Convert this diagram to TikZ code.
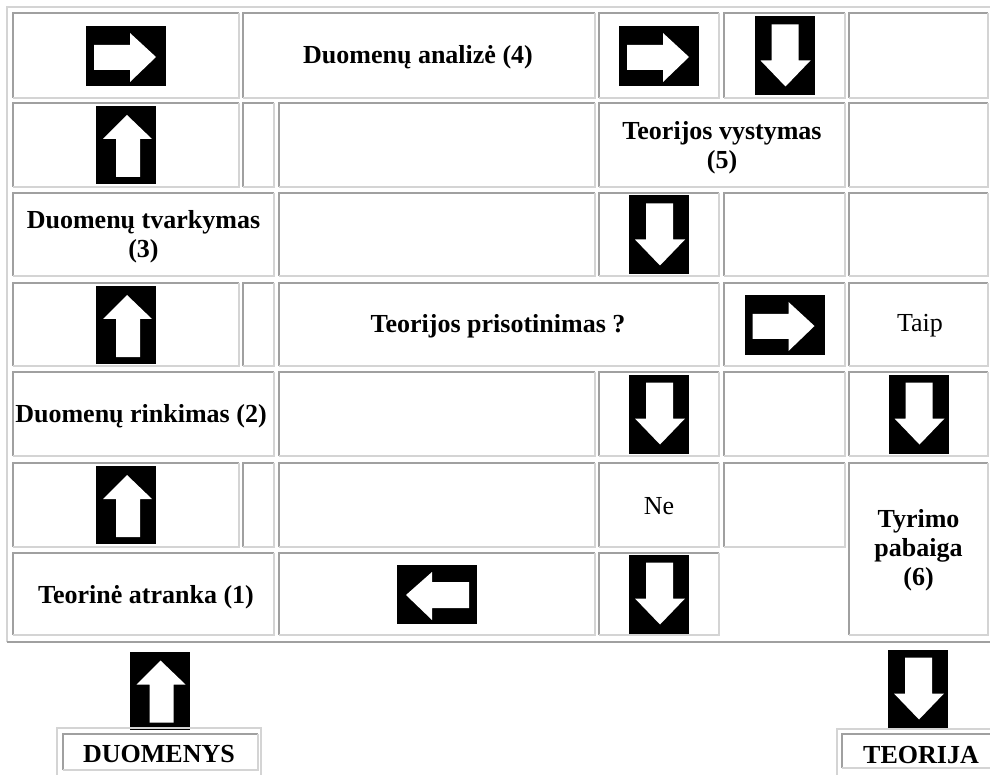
\documentclass[tikz,border=0pt]{standalone}
\usepackage{fontspec}
\setmainfont{Liberation Serif}

\definecolor{bevdark}{RGB}{160,160,160}
\definecolor{bevlight}{RGB}{212,212,212}

\tikzset{
  celldark/.style={draw=bevdark, line width=1.3pt},
  celllight/.style={draw=bevlight, line width=1.3pt},
  boldtext/.style={font=\fontsize{26}{29}\selectfont\bfseries, align=center, inner sep=0pt},
  plaintext/.style={font=\fontsize{26}{29}\selectfont, align=center, inner sep=0pt},
  % arrow pictures (black box, white arrow)
  arrright/.pic={
    \fill[black] (-40,-30) rectangle (40,30);
    \fill[white] (-32,-11) -- (4,-11) -- (4,-23) -- (30,1) -- (4,26) -- (4,14) -- (-32,14) -- cycle;
  },
  arrleft/.pic={
    \fill[black] (-40,-29.5) rectangle (40,29.5);
    \fill[white] (-31,0.5) -- (-5,-22.5) -- (-5,-12.5) -- (32,-12.5) -- (32,13.5) -- (-5,13.5) -- (-5,25.5) -- cycle;
  },
  arrup/.pic={
    \fill[black] (-30,-39) rectangle (30,39);
    \fill[white] (1,-30) -- (26,-6) -- (14,-6) -- (14,32) -- (-10,32) -- (-10,-6) -- (-23,-6) -- cycle;
  },
  arrdown/.pic={
    \fill[black] (-30,-39.5) rectangle (30,39.5);
    \fill[white] (-13,-31.5) -- (14,-31.5) -- (14,4.5) -- (26,4.5) -- (1,30.5) -- (-24,4.5) -- (-13,4.5) -- cycle;
  }
}

% one table cell: dark top/left, light bottom/right
\newcommand{\tabcell}[4]{%
  \draw[celldark] (#1,#4) -- (#1,#2) -- (#3,#2);
  \draw[celllight] (#3,#2) -- (#3,#4) -- (#1,#4);
}

\begin{document}
\begin{tikzpicture}[x=1pt, y=-1pt]
  \useasboundingbox[fill=white] (0,0) rectangle (990,775);

  % outer table border
  \draw[celllight] (7,642) -- (7,7) -- (995,7);
  \draw[celldark] (7,642) -- (995,642);

  % row 1
  \tabcell{13}{13}{239}{98}
  \tabcell{243}{13}{595}{98}
  \tabcell{599}{13}{719}{98}
  \tabcell{724}{13}{845}{98}
  \tabcell{849}{13}{988}{98}
  % row 2
  \tabcell{13}{103}{239}{187}
  \tabcell{243}{103}{274}{187}
  \tabcell{279}{103}{595}{187}
  \tabcell{599}{103}{845}{187}
  \tabcell{849}{103}{988}{187}
  % row 3
  \tabcell{13}{193}{274}{276}
  \tabcell{279}{193}{595}{276}
  \tabcell{599}{193}{719}{276}
  \tabcell{724}{193}{845}{276}
  \tabcell{849}{193}{988}{276}
  % row 4
  \tabcell{13}{283}{239}{366}
  \tabcell{243}{283}{274}{366}
  \tabcell{279}{283}{719}{366}
  \tabcell{724}{283}{845}{366}
  \tabcell{849}{283}{988}{366}
  % row 5
  \tabcell{13}{372}{274}{456}
  \tabcell{279}{372}{595}{456}
  \tabcell{599}{372}{719}{456}
  \tabcell{724}{372}{845}{456}
  \tabcell{849}{372}{988}{456}
  % row 6
  \tabcell{13}{463}{239}{547}
  \tabcell{243}{463}{274}{547}
  \tabcell{279}{463}{595}{547}
  \tabcell{599}{463}{719}{547}
  \tabcell{724}{463}{845}{547}
  \tabcell{849}{463}{988}{635}
  % row 7
  \tabcell{13}{553}{274}{635}
  \tabcell{279}{553}{595}{635}
  \tabcell{599}{553}{719}{635}

  % arrows inside the table
  \pic at (126,56) {arrright};
  \pic at (659,56) {arrright};
  \pic at (784.5,56) {arrdown};
  \pic at (126,145) {arrup};
  \pic at (659,235) {arrdown};
  \pic at (126,325) {arrup};
  \pic at (784.5,325) {arrright};
  \pic at (659,414) {arrdown};
  \pic at (918.5,414) {arrdown};
  \pic at (126,505) {arrup};
  \pic at (437,594.5) {arrleft};
  \pic at (659,594) {arrdown};

  % texts
  \node[boldtext] (analize) at (418,57) {Duomenų analizė (4)};
  \node[boldtext] (vystymas) at (722,148) {Teorijos vystymas\\(5)};
  \node[boldtext] (tvarkymas) at (143.5,237) {Duomenų tvarkymas\\(3)};
  \node[boldtext] (prisotinimas) at (498,326) {Teorijos prisotinimas ?};
  \node[plaintext] (taip) at (920,326) {Taip};
  \node[boldtext] (rinkimas) at (141,416) {Duomenų rinkimas (2)};
  \node[plaintext] (ne) at (659,506) {Ne};
  \node[boldtext] (pabaiga) at (918.5,550) {Tyrimo\\pabaiga\\(6)};
  \node[boldtext] (atranka) at (146,597) {Teorinė atranka (1)};

  % below the table
  \pic at (159.5,690.5) {arrup};
  \pic at (918,689) {arrdown};
  \draw[celllight] (57,780) -- (57,728) -- (261,728) -- (261,780);
  \tabcell{63}{734}{258}{770}
  \draw[celllight] (837,780) -- (837,729) -- (995,729);
  \tabcell{842}{734}{995}{768}
  \node[boldtext] (duomenys) at (159,754) {DUOMENYS};
  \node[boldtext] (teorija) at (921,755) {TEORIJA};
\end{tikzpicture}
\end{document}
